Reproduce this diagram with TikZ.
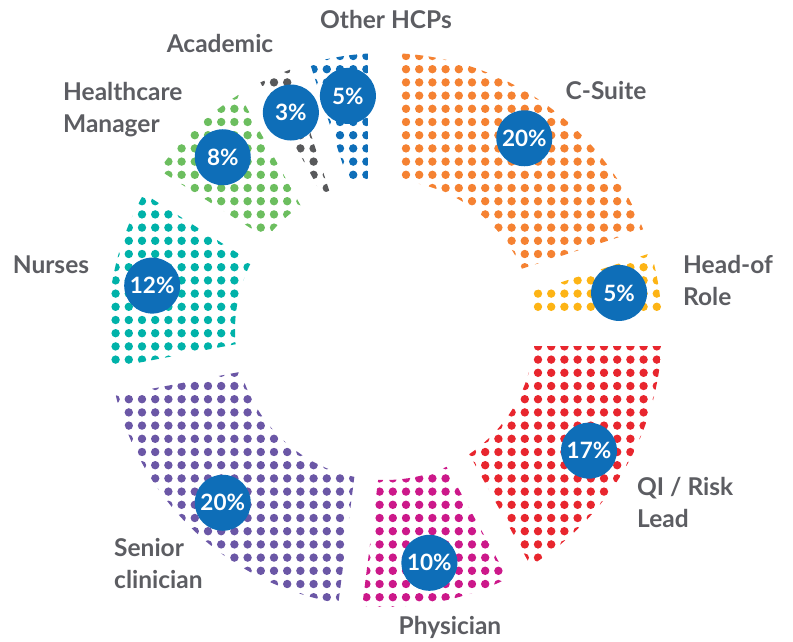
\documentclass[tikz,border=0pt]{standalone}
\usepackage{fontspec}
\setmainfont{Lato}
\usepackage{tikz}
\usetikzlibrary{positioning}
\definecolor{csuite}{RGB}{245,130,50}
\definecolor{headrole}{RGB}{253,180,21}
\definecolor{qirisk}{RGB}{232,38,46}
\definecolor{physician}{RGB}{204,24,138}
\definecolor{senior}{RGB}{107,87,166}
\definecolor{nurses}{RGB}{0,178,169}
\definecolor{manager}{RGB}{108,190,95}
\definecolor{academic}{RGB}{88,89,91}
\definecolor{otherhcp}{RGB}{14,110,184}
\definecolor{badge}{RGB}{14,110,184}
\definecolor{labelgray}{RGB}{92,93,98}

\begin{document}
\begin{tikzpicture}[x=1pt,y=1pt,
    share/.style={circle, fill=badge, minimum size=56pt, inner sep=0pt, text=white, font=\fontsize{22.5}{24}\selectfont\bfseries},
    role/.style={inner sep=0pt, text=labelgray, font=\fontsize{24.5}{32}\selectfont\bfseries, align=left}]
\useasboundingbox (-385,-311) rectangle (408,330);
% dotted ring, clockwise from the top
\foreach \a/\b/\ga/\gb/\col/\il/\ih/\jl/\jh in {90/18/17/16/csuite/-2/19/-18/0, 18/0/9/16/headrole/9/20/-22/-13,
    0/-61.2/16/14/qirisk/3/20/-40/-20, -61.2/-97.2/12/12/physician/-5/9/-43/-30,
    -97.2/-169.2/12/14/senior/-23/-2/-43/-22, 190.8/147.6/14/14/nurses/-23/-10/-25/-9,
    147.6/118.8/14/14/manager/-20/-6/-15/-2, 118.8/108/10/10/academic/-12/-4/-11/0,
    108/90/11/17/otherhcp/-9/-1/-11/1}{
  \begin{scope}[even odd rule]
    \clip (0,0) circle (277) (0,0) circle (150);
    \clip[rotate=\a] (-400,-\ga) rectangle (400,-400);
    \clip[rotate=\b] (-400,\gb) rectangle (400,400);
    \foreach \i in {\il,...,\ih}
      \foreach \j in {\jl,...,\jh}
        \fill[\col] ({21+13.2*\i}, {274+13.2*\j}) circle (4.2);
  \end{scope}
}
% percentages
\node[share] (pcsuite) at (54:237) {20\%};
\node[share] (phead) at (9:237) {5\%};
\node[share] (pqi) at (-30.6:237) {17\%};
\node[share] (pphys) at (-79.2:237) {10\%};
\node[share] (psenior) at (-133.2:237) {20\%};
\node[share] (pnurses) at (169.2:237) {12\%};
\node[share] (pmanager) at (133.2:237) {8\%};
\node[share] (pacademic) at (113.4:237) {3\%};
\node[share] (pother) at (99:237) {5\%};
% roles (base = last line)
\node[role, anchor=base] (lother) at (1,302) {Other HCPs};
\node[role, anchor=base] (lacademic) at (-165,278) {Academic};
\node[role, anchor=base west] (lmanager) at (-322,198) {Healthcare\\Manager};
\node[role, anchor=base] (lcsuite) at (221,231) {C-Suite};
\node[role, anchor=base west] (lhead) at (298,25) {Head-of\\Role};
\node[role, anchor=base] (lnurses) at (-334,57) {Nurses};
\node[role, anchor=base west] (lqi) at (252,-197) {QI / Risk\\Lead};
\node[role, anchor=base] (lphys) at (65,-304) {Physician};
\node[role, anchor=base west] (lsenior) at (-271,-258) {Senior\\clinician};
\end{tikzpicture}
\end{document}
